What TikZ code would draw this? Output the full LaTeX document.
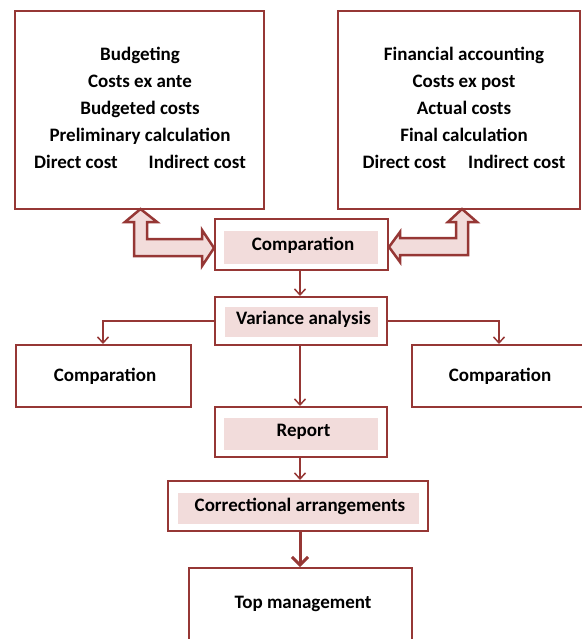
\documentclass[tikz,border=0pt]{standalone}
\usepackage{fontspec}
\setmainfont{Carlito}
\usetikzlibrary{arrows.meta}
\definecolor{frame}{RGB}{150,55,53}
\definecolor{blush}{RGB}{242,220,219}
\tikzset{
  box/.style={draw=frame, line width=2pt, fill=white, inner sep=0pt, anchor=center},
  band/.style={fill=blush, inner sep=0pt, anchor=center},
  lbl/.style={font=\fontsize{19}{22}\selectfont\bfseries, inner sep=0pt, anchor=center},
  stack/.style={lbl, align=center, font=\fontsize{19}{27}\selectfont\bfseries},
  link/.style={draw=frame, line width=1.5pt, -{Straight Barb[length=6pt,width=11pt,line width=1.5pt]}},
  boldlink/.style={draw=frame, line width=3pt, -{Straight Barb[length=8pt,width=16pt,line width=3pt]}},
  bentarrow/.style={draw=frame, fill=blush, line width=2.5pt, line join=miter}
}
\begin{document}
\begin{tikzpicture}[x=1pt,y=-1pt]
\useasboundingbox (0,0) rectangle (581,639);

% upper source boxes
\node[box, minimum width=249pt, minimum height=198pt] (plan) at (139.5,110) {};
\node[box, minimum width=242pt, minimum height=198pt] (actual) at (459,110) {};
\node[stack] (plantext) at (140,108) {Budgeting\\Costs ex ante\\Budgeted costs\\Preliminary calculation\\Direct cost\hspace{31pt}Indirect cost};
\node[stack] (actualtext) at (464,108) {Financial accounting\\Costs ex post\\Actual costs\\Final calculation\\Direct cost\hspace{22pt}Indirect cost};

% comparison step
\node[box, minimum width=173pt, minimum height=51pt] (cmp) at (301.5,244.5) {};
\node[band, minimum width=154pt, minimum height=33pt] (cmpband) at (301,247.5) {};
\node[lbl] (cmptext) at (303,245) {Comparation};

% bent block arrows into the comparison
\coordinate (planfoot) at (140.5,209);
\coordinate (actualfoot) at (462,209);
\path[bentarrow] (planfoot) -- (157,222) -- (147,222) -- (147,239) -- (202,239)
  -- (202,230) -- (cmp.west |- 0,248) -- (202,266) -- (202,256) -- (134,256)
  -- (134,222) -- (125,222) -- cycle;
\path[bentarrow] (actualfoot) -- (477,222) -- (468,222) -- (468,255) -- (400,255)
  -- (400,262) -- (cmp.east |- 0,247) -- (400,232) -- (400,238) -- (456,238)
  -- (456,222) -- (448,222) -- cycle;

% variance analysis
\node[box, minimum width=172pt, minimum height=48pt] (var) at (301,321) {};
\node[band, minimum width=153pt, minimum height=30pt] (varband) at (301.5,321.5) {};
\node[lbl] (vartext) at (303.5,319) {Variance analysis};

% side outcomes
\node[box, minimum width=175pt, minimum height=62pt] (left) at (103,376) {};
\node[lbl] (lefttext) at (105,376) {Comparation};
\node[box, minimum width=174pt, minimum height=62pt] (right) at (499,376) {};
\node[lbl] (righttext) at (500,376) {Comparation};

% report
\node[box, minimum width=172pt, minimum height=50pt] (rep) at (301,432) {};
\node[band, minimum width=154pt, minimum height=32pt] (repband) at (301,434) {};
\node[lbl] (reptext) at (303.5,432) {Report};

% corrective measures
\node[box, minimum width=260pt, minimum height=50pt] (cor) at (298,506) {};
\node[band, minimum width=241pt, minimum height=31pt] (corband) at (298.5,508.5) {};
\node[lbl] (cortext) at (300,506) {Correctional arrangements};

% top management
\node[box, minimum width=223pt, minimum height=76pt] (top) at (300.5,606) {};
\node[lbl] (toptext) at (303,604) {Top management};

% connectors
\draw[link] (cmp.south -| 300,0) -- (var.north -| 300,0);
\draw[link] (var.west) -| (left.north -| 103,0);
\draw[link] (var.east) -| (right.north -| 499,0);
\draw[link] (var.south -| 300,0) -- (rep.north -| 300,0);
\draw[link] (rep.south -| 300,0) -- (cor.north -| 300,0);
\draw[boldlink] (cor.south -| 300,0) -- (top.north -| 300,0);
\end{tikzpicture}
\end{document}
